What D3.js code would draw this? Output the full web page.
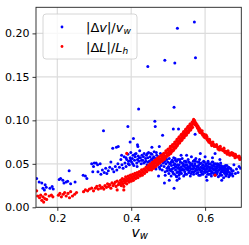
<!DOCTYPE html>
<html><head><meta charset="utf-8">
<script src="https://cdn.jsdelivr.net/npm/d3@7"></script>
<style>body{margin:0;background:#fff}svg{display:block}text{font-family:"DejaVu Sans",sans-serif}</style>
</head><body>
<svg id="c" width="249" height="245"></svg>
<script>
// tick labels
const xTicks = [0.2, 0.4, 0.6];
const yTicks = [0.00, 0.05, 0.10, 0.15, 0.20];
const seriesNames = ["|Δv|/v_w", "|ΔL|/L_h"];

// |Δv|/v_w  (blue)
const dvPoints = [
[0.144,0.033],[0.151,0.029],[0.158,0.028],[0.161,0.022],[0.165,0.020],[0.167,0.026],[0.170,0.023],[0.180,0.022],[0.186,0.024],[0.189,0.021],
[0.205,0.032],[0.209,0.033],[0.215,0.031],[0.218,0.028],[0.224,0.029],[0.228,0.030],[0.232,0.042],[0.236,0.027],[0.248,0.029],[0.270,0.037],
[0.276,0.036],[0.280,0.033],[0.293,0.050],[0.296,0.041],[0.298,0.047],
[0.300,0.051],[0.305,0.051],[0.309,0.049],[0.316,0.050],[0.310,0.041],[0.318,0.038],[0.322,0.043],[0.327,0.040],[0.331,0.045],[0.334,0.039],
[0.338,0.042],[0.342,0.046],[0.345,0.052],[0.349,0.044],[0.353,0.041],[0.357,0.047],[0.361,0.043],[0.364,0.050],[0.368,0.046],[0.372,0.055],
[0.375,0.049],[0.378,0.045],
[0.381,0.058],[0.383,0.051],[0.386,0.047],[0.388,0.055],[0.391,0.061],[0.393,0.053],[0.395,0.049],[0.397,0.057],[0.399,0.063],[0.401,0.052],
[0.403,0.056],[0.405,0.060],[0.407,0.048],[0.409,0.054],[0.411,0.058],[0.413,0.062],[0.415,0.051],[0.417,0.055],[0.419,0.059],[0.421,0.053],
[0.423,0.065],[0.425,0.057],[0.427,0.050],[0.429,0.060],[0.431,0.054],[0.433,0.058],[0.435,0.062],[0.437,0.052],[0.439,0.056],[0.441,0.060],
[0.443,0.049],[0.445,0.057],[0.447,0.063],[0.449,0.053],
[0.386,0.057],[0.392,0.050],[0.398,0.054],[0.404,0.050],[0.410,0.061],[0.416,0.047],[0.422,0.057],[0.428,0.054],[0.434,0.051],[0.440,0.053],
[0.446,0.052],[0.453,0.062],[0.458,0.056],[0.463,0.046],[0.468,0.063],[0.473,0.050],[0.478,0.044],[0.483,0.060],[0.488,0.052],[0.493,0.056],
[0.498,0.042],
[0.451,0.058],[0.452,0.050],[0.454,0.055],[0.456,0.061],[0.457,0.047],[0.459,0.053],[0.461,0.058],[0.462,0.064],[0.464,0.051],[0.466,0.056],
[0.467,0.044],[0.469,0.060],[0.471,0.049],[0.472,0.054],[0.474,0.058],[0.476,0.046],[0.477,0.052],[0.479,0.062],[0.481,0.048],[0.482,0.055],
[0.484,0.043],[0.486,0.051],[0.487,0.057],[0.489,0.047],[0.491,0.053],[0.492,0.041],[0.494,0.050],[0.496,0.055],[0.497,0.045],[0.499,0.052],
[0.501,0.047],[0.502,0.039],[0.503,0.056],[0.505,0.043],[0.506,0.051],[0.508,0.036],[0.509,0.048],[0.511,0.054],[0.512,0.041],[0.514,0.045],
[0.515,0.057],[0.517,0.038],[0.518,0.050],[0.520,0.043],[0.521,0.047],[0.523,0.053],[0.524,0.040],[0.526,0.045],[0.527,0.055],[0.529,0.037],
[0.530,0.049],[0.532,0.042],[0.533,0.052],[0.535,0.046],[0.536,0.039],[0.538,0.056],[0.539,0.044],[0.541,0.050],[0.542,0.036],[0.544,0.047],
[0.545,0.041],[0.547,0.053],[0.548,0.045],[0.550,0.038],[0.551,0.049],[0.553,0.043],[0.554,0.055],[0.556,0.040],[0.557,0.047],[0.559,0.051],
[0.560,0.036],[0.562,0.044],[0.563,0.058],[0.565,0.041],[0.566,0.048],[0.568,0.053],[0.569,0.038],[0.571,0.045],[0.572,0.050],[0.574,0.042],
[0.575,0.056],[0.577,0.039],[0.578,0.047],[0.580,0.052],
[0.504,0.050],[0.510,0.044],[0.516,0.049],[0.522,0.036],[0.528,0.046],[0.534,0.040],[0.540,0.048],[0.546,0.038],[0.552,0.046],[0.558,0.042],
[0.564,0.050],[0.570,0.041],[0.576,0.044],[0.507,0.042],[0.513,0.052],[0.519,0.046],[0.525,0.049],[0.531,0.044],[0.537,0.051],[0.543,0.043],
[0.549,0.052],[0.555,0.045],[0.561,0.049],[0.567,0.044],[0.573,0.048],[0.579,0.043],
[0.502,0.045],[0.508,0.052],[0.514,0.039],[0.520,0.054],[0.526,0.041],[0.532,0.055],[0.538,0.043],[0.544,0.053],[0.550,0.044],[0.556,0.052],
[0.562,0.039],[0.568,0.047],[0.574,0.053],[0.580,0.046],[0.586,0.050],[0.592,0.039],[0.598,0.052],[0.604,0.044],[0.610,0.050],[0.616,0.039],
[0.622,0.044],[0.628,0.040],[0.634,0.050],[0.640,0.037],[0.646,0.042],[0.652,0.047],[0.658,0.039],[0.664,0.046],[0.670,0.044],[0.676,0.042],
[0.519,0.056],[0.531,0.039],[0.547,0.049],[0.559,0.046],[0.571,0.054],[0.583,0.037],[0.595,0.045],[0.607,0.051],[0.619,0.052],[0.631,0.047],
[0.643,0.048],[0.655,0.042],[0.661,0.045],[0.673,0.039],
[0.581,0.040],[0.582,0.048],[0.584,0.044],[0.585,0.055],[0.587,0.037],[0.588,0.046],[0.590,0.051],[0.591,0.042],[0.593,0.048],[0.594,0.038],
[0.596,0.053],[0.597,0.044],[0.599,0.047],[0.600,0.040],[0.602,0.050],[0.603,0.035],[0.605,0.045],[0.606,0.041],[0.608,0.053],[0.609,0.047],
[0.611,0.038],[0.612,0.044],[0.614,0.050],[0.615,0.042],[0.617,0.036],[0.618,0.048],[0.620,0.045],[0.621,0.052],[0.623,0.039],[0.624,0.043],
[0.626,0.047],[0.627,0.037],[0.629,0.050],[0.630,0.042],[0.632,0.045],[0.633,0.040],[0.635,0.048],[0.636,0.035],[0.638,0.043],[0.639,0.046],
[0.641,0.039],[0.642,0.051],[0.644,0.044],[0.645,0.037],[0.647,0.041],[0.648,0.047],[0.650,0.034],[0.651,0.043],[0.653,0.039],[0.654,0.045],
[0.656,0.036],[0.657,0.041],[0.659,0.048],[0.660,0.038],[0.662,0.043],[0.664,0.035],[0.666,0.040],[0.668,0.045],[0.670,0.038],[0.672,0.042],
[0.675,0.036],[0.678,0.049],
[0.583,0.052],[0.589,0.041],[0.595,0.049],[0.601,0.043],[0.607,0.038],[0.613,0.046],[0.619,0.041],[0.625,0.050],[0.631,0.038],[0.637,0.049],
[0.643,0.041],[0.649,0.044],[0.655,0.048],[0.661,0.041],[0.667,0.037],[0.586,0.043],[0.592,0.045],[0.598,0.041],[0.604,0.048],[0.610,0.042],
[0.616,0.045],[0.622,0.048],[0.628,0.044],[0.634,0.042],[0.640,0.044],[0.646,0.046],[0.652,0.040],[0.658,0.044],
[0.587,0.062],[0.627,0.062],[0.573,0.084],[0.550,0.060],[0.535,0.060],[0.600,0.058],[0.640,0.055],[0.620,0.057],
[0.685,0.044],[0.692,0.047],[0.696,0.045],[0.689,0.040],[0.682,0.039],
[0.490,0.028],[0.516,0.022],[0.524,0.031],[0.503,0.031],[0.474,0.036],[0.530,0.033],[0.605,0.031],[0.645,0.031],[0.492,0.037],[0.523,0.035],
[0.525,0.206],[0.571,0.213],[0.445,0.162],[0.491,0.169],[0.518,0.166],[0.574,0.172],[0.420,0.113],[0.516,0.115],[0.464,0.099],[0.465,0.093],
[0.485,0.083],[0.514,0.090],[0.528,0.090],[0.543,0.085],[0.391,0.093],[0.325,0.088],[0.406,0.079],[0.397,0.075],[0.350,0.068],[0.360,0.069],
[0.418,0.070],[0.456,0.069],[0.365,0.070],[0.374,0.060],[0.476,0.070],[0.444,0.062],[0.417,0.072]
];

// |ΔL|/L_h  (red)
const dLPoints = [
[0.144,0.019],[0.147,0.013],[0.152,0.011],[0.155,0.014],[0.158,0.008],[0.161,0.012],[0.163,0.006],[0.166,0.010],[0.168,0.015],[0.171,0.009],
[0.178,0.013],[0.184,0.014],[0.188,0.012],[0.203,0.014],[0.207,0.016],[0.211,0.012],[0.216,0.015],[0.220,0.017],[0.224,0.013],[0.229,0.016],
[0.233,0.011],[0.236,0.018],[0.241,0.013],[0.247,0.015],[0.252,0.017],[0.271,0.018],[0.276,0.020],[0.282,0.019],[0.287,0.021],[0.293,0.022],
[0.298,0.019],[0.303,0.022],[0.307,0.024],[0.311,0.021],[0.315,0.025],[0.318,0.022],[0.322,0.023],[0.326,0.021],[0.329,0.025],[0.333,0.023],
[0.336,0.027],[0.339,0.024],[0.342,0.026],[0.345,0.022],[0.348,0.028],[0.351,0.025],[0.354,0.027],[0.357,0.029],[0.359,0.024],[0.362,0.030],
[0.365,0.026],[0.368,0.028],
[0.370,0.027],[0.371,0.031],[0.373,0.025],[0.374,0.029],[0.376,0.033],[0.377,0.027],[0.379,0.030],[0.380,0.024],[0.382,0.032],[0.383,0.028],
[0.385,0.035],[0.386,0.030],[0.388,0.027],[0.389,0.033],[0.391,0.031],[0.392,0.036],[0.394,0.029],[0.395,0.034],[0.397,0.032],[0.398,0.037],
[0.400,0.030],[0.401,0.035],[0.403,0.033],[0.404,0.038],[0.406,0.031],[0.407,0.036],[0.409,0.034],[0.410,0.039],[0.412,0.033],[0.413,0.037],
[0.415,0.035],[0.416,0.040],[0.418,0.034],[0.419,0.038],[0.421,0.037],[0.422,0.041],[0.424,0.036],[0.425,0.040],[0.427,0.038],[0.428,0.043],
[0.430,0.037],[0.431,0.041],[0.433,0.040],[0.434,0.044],[0.436,0.039],[0.437,0.043],[0.439,0.042],[0.440,0.046],[0.442,0.041],[0.443,0.045],
[0.445,0.044],[0.446,0.048],[0.448,0.043],[0.449,0.047],
[0.450,0.046],[0.451,0.050],[0.453,0.044],[0.454,0.048],[0.456,0.047],[0.457,0.051],[0.459,0.045],[0.460,0.049],[0.462,0.049],[0.463,0.053],
[0.465,0.047],[0.466,0.051],[0.468,0.051],[0.469,0.055],[0.471,0.049],[0.472,0.053],[0.474,0.053],[0.475,0.057],[0.477,0.051],[0.478,0.055],
[0.480,0.055],[0.481,0.059],[0.483,0.053],[0.484,0.057],[0.486,0.057],[0.487,0.061],[0.489,0.055],[0.490,0.059],[0.492,0.059],[0.493,0.063],
[0.495,0.058],[0.496,0.062],[0.498,0.062],[0.499,0.066],[0.501,0.060],[0.502,0.064],[0.504,0.064],[0.505,0.068],[0.507,0.062],[0.508,0.066],
[0.510,0.066],[0.511,0.070],[0.513,0.065],[0.514,0.069],[0.516,0.069],[0.517,0.073],[0.519,0.068],[0.520,0.072],[0.522,0.072],[0.523,0.076],
[0.525,0.071],[0.526,0.075],[0.528,0.076],[0.529,0.080],[0.531,0.074],[0.532,0.078],[0.534,0.079],[0.535,0.083],[0.537,0.077],[0.538,0.081],
[0.540,0.082],[0.541,0.086],[0.543,0.080],[0.544,0.084],[0.546,0.085],[0.547,0.089],[0.549,0.083],[0.550,0.087],[0.552,0.088],[0.553,0.092],
[0.555,0.086],[0.556,0.090],[0.558,0.091],[0.559,0.095],[0.561,0.089],[0.562,0.093],[0.564,0.094],[0.565,0.098],[0.566,0.092],[0.567,0.096],
[0.568,0.099],[0.569,0.101],[0.570,0.097],[0.571,0.100],
[0.455,0.043],[0.461,0.045],[0.467,0.047],[0.473,0.050],[0.479,0.052],[0.485,0.054],[0.491,0.056],[0.497,0.059],[0.503,0.061],[0.509,0.064],
[0.515,0.066],[0.521,0.069],[0.527,0.073],[0.533,0.076],[0.539,0.079],[0.545,0.082],[0.551,0.085],[0.557,0.088],[0.563,0.091],
[0.458,0.052],[0.464,0.054],[0.470,0.056],[0.476,0.058],[0.482,0.060],[0.488,0.062],[0.494,0.065],[0.500,0.067],[0.506,0.070],[0.512,0.072],
[0.518,0.075],[0.524,0.078],[0.530,0.081],[0.536,0.084],[0.542,0.087],[0.548,0.090],[0.554,0.093],[0.560,0.096],
[0.572,0.098],[0.573,0.095],[0.575,0.097],[0.576,0.094],[0.578,0.095],[0.579,0.092],[0.581,0.093],[0.582,0.090],[0.584,0.091],[0.585,0.088],
[0.587,0.089],[0.588,0.086],[0.590,0.087],[0.591,0.085],[0.593,0.085],[0.594,0.083],[0.596,0.084],[0.597,0.081],[0.599,0.082],[0.600,0.080],
[0.602,0.081],[0.604,0.079],[0.606,0.079],[0.607,0.077],[0.609,0.077],[0.611,0.076],[0.613,0.076],[0.614,0.074],[0.616,0.074],[0.618,0.073],
[0.620,0.073],[0.622,0.072],[0.624,0.072],[0.626,0.071],[0.628,0.071],[0.630,0.070],[0.632,0.070],[0.634,0.069],[0.636,0.069],[0.638,0.068],
[0.640,0.068],[0.642,0.067],[0.644,0.067],[0.646,0.066],[0.648,0.066],[0.650,0.065],[0.653,0.065],[0.655,0.064],[0.658,0.064],[0.660,0.063],
[0.663,0.063],[0.665,0.062],[0.668,0.062],[0.670,0.061],[0.673,0.061],[0.675,0.060],[0.678,0.060],[0.680,0.059],[0.683,0.059],[0.685,0.058],
[0.688,0.058],[0.690,0.058],[0.693,0.057],[0.695,0.057],[0.697,0.056],
[0.580,0.091],[0.592,0.088],[0.603,0.083],[0.612,0.078],[0.621,0.075],[0.631,0.072],[0.641,0.070],[0.651,0.068],[0.662,0.065],[0.672,0.063],
[0.682,0.061],[0.692,0.059],[0.583,0.088],[0.597,0.084],[0.610,0.075],[0.625,0.070],[0.639,0.066],[0.654,0.063],[0.667,0.060],[0.681,0.057],
[0.694,0.055],
[0.586,0.086],[0.601,0.083],[0.605,0.081],[0.618,0.071],[0.635,0.067],[0.660,0.061],[0.676,0.062],
[0.627,0.037],[0.388,0.062],[0.380,0.020],[0.362,0.020]
];

const W = 249, H = 245;
const m = {left: 36, right: 241.3, top: 7.3, bottom: 207.3};
const x = d3.scaleLinear().domain([0.1423, 0.698]).range([m.left, m.right]);
const y = d3.scaleLinear().domain([0, 0.23]).range([m.bottom, m.top]);

const svg = d3.select("#c");
svg.append("rect").attr("width", W).attr("height", H).attr("fill", "#fff");

// grid
const g = svg.append("g");
g.selectAll(".gx").data(xTicks).enter().append("line")
  .attr("x1", d => x(d)).attr("x2", d => x(d)).attr("y1", m.top).attr("y2", m.bottom)
  .attr("stroke", "#dcdcdc").attr("stroke-width", 1.2);
g.selectAll(".gy").data(yTicks).enter().append("line")
  .attr("y1", d => y(d)).attr("y2", d => y(d)).attr("x1", m.left).attr("x2", m.right)
  .attr("stroke", "#dcdcdc").attr("stroke-width", 1.2);

// points
svg.append("clipPath").attr("id", "clp").append("rect")
  .attr("x", m.left).attr("y", m.top).attr("width", m.right - m.left).attr("height", m.bottom - m.top);
const pts = svg.append("g").attr("clip-path", "url(#clp)");
pts.selectAll(".b").data(dvPoints).enter().append("circle")
  .attr("cx", d => x(d[0])).attr("cy", d => y(d[1])).attr("r", 1.5).attr("fill", "#0000ff");
pts.selectAll(".r").data(dLPoints).enter().append("circle")
  .attr("cx", d => x(d[0])).attr("cy", d => y(d[1])).attr("r", 1.6).attr("fill", "#ff0000");

// axes
const xAxis = d3.axisBottom(x).tickValues(xTicks).tickSize(3.5).tickPadding(3).tickFormat(d3.format(".1f"));
const yAxis = d3.axisLeft(y).tickValues(yTicks).tickSize(3.5).tickPadding(3).tickFormat(d3.format(".2f"));
const ax = svg.append("g").attr("transform", `translate(0,${m.bottom})`).call(xAxis);
const ay = svg.append("g").attr("transform", `translate(${m.left},0)`).call(yAxis);
[ax, ay].forEach(a => {
  a.select(".domain").remove();
  a.selectAll("line").attr("stroke", "#000").attr("stroke-width", 0.8);
  a.selectAll("text").attr("font-family", "DejaVu Sans").attr("font-size", 11).attr("fill", "#000");
});
// frame
svg.append("rect").attr("x", m.left).attr("y", m.top).attr("width", m.right - m.left).attr("height", m.bottom - m.top)
  .attr("fill", "none").attr("stroke", "#222").attr("stroke-width", 0.9);

// x label
const xl = svg.append("text").attr("x", 131.5).attr("y", 237).attr("font-size", 14);
xl.append("tspan").attr("font-style", "italic").text("v");
xl.append("tspan").attr("font-style", "italic").attr("font-size", 10).attr("dy", 2).text("w");

// legend
const lg = svg.append("g");
lg.append("rect").attr("x", 43).attr("y", 14).attr("width", 94).attr("height", 45).attr("rx", 3)
  .attr("fill", "#fff").attr("fill-opacity", 0.8).attr("stroke", "#cccccc").attr("stroke-width", 0.8);
const rows = [{c: "#0000ff", b: "v", sub: "w", yy: 27}, {c: "#ff0000", b: "L", sub: "h", yy: 46.5}];
rows.forEach(r => {
  lg.append("circle").attr("cx", 62).attr("cy", r.yy).attr("r", 1.4).attr("fill", r.c);
  const t = lg.append("text").attr("x", 86).attr("y", r.yy + 5).attr("font-size", 13);
  t.append("tspan").text("|Δ");
  t.append("tspan").attr("font-style", "italic").text(r.b);
  t.append("tspan").text("|/");
  t.append("tspan").attr("font-style", "italic").text(r.b);
  t.append("tspan").attr("font-style", "italic").attr("font-size", 9).attr("dy", 2).text(r.sub);
});
</script>
</body></html>
